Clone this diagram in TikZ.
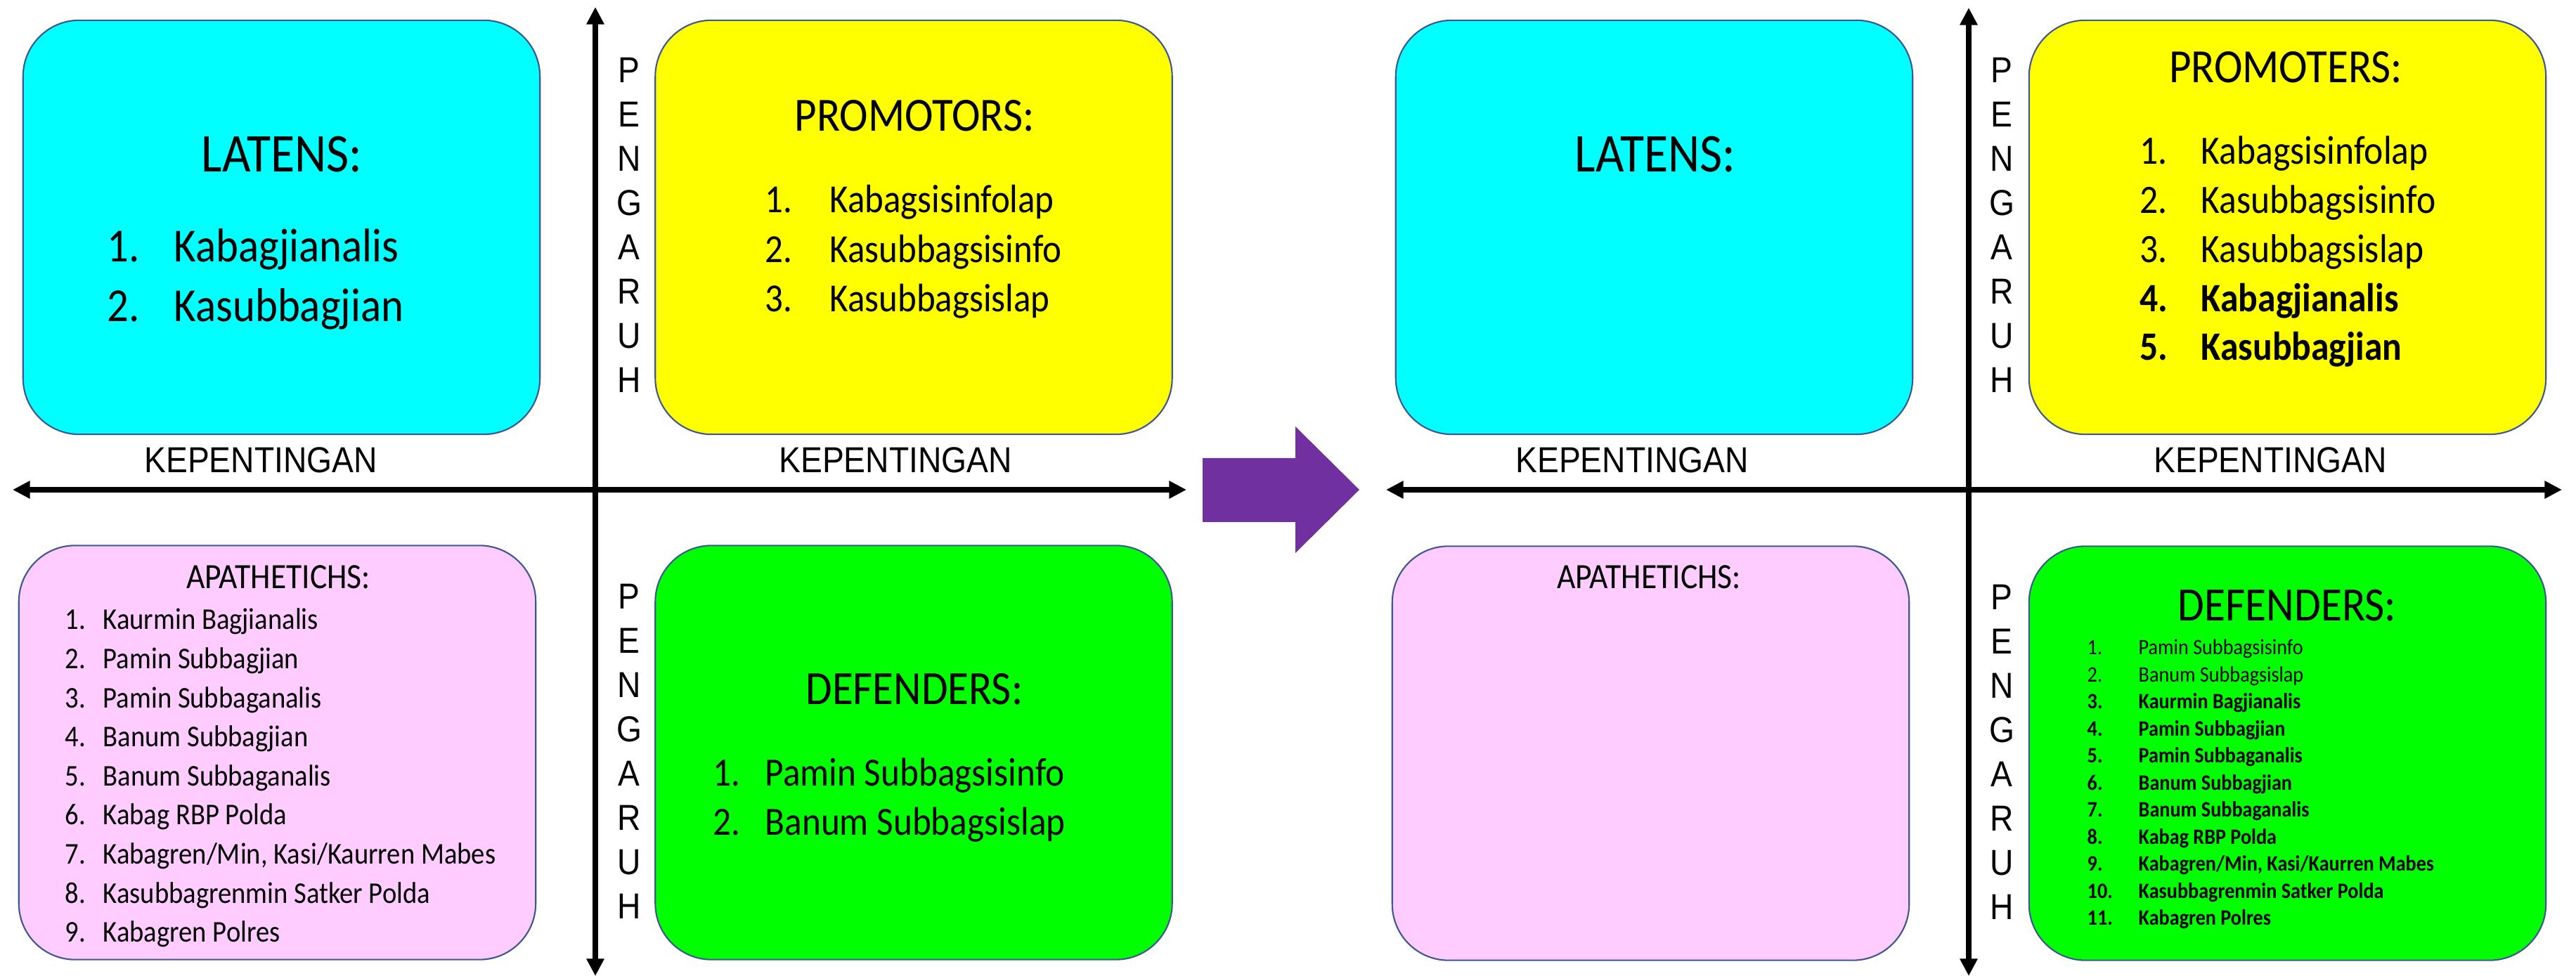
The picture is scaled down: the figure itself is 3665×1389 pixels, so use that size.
\documentclass[tikz,border=0pt]{standalone}
\usepackage{graphicx}
\usepackage{fontspec}
\usetikzlibrary{arrows.meta}
\newfontfamily\boxfont[FakeStretch=0.9]{Carlito}
\newfontfamily\axisfont[FakeStretch=0.9]{Liberation Sans}
\definecolor{qcyan}{RGB}{0,255,255}
\definecolor{qyellow}{RGB}{255,255,0}
\definecolor{qpink}{RGB}{255,204,255}
\definecolor{qgreen}{RGB}{0,255,0}
\definecolor{qedge}{RGB}{62,86,150}
\definecolor{qpurple}{RGB}{112,48,160}
\begin{document}
\begin{tikzpicture}[x=0.01cm, y=-0.01cm,
  quad/.style={draw=qedge, line width=0.6pt, rounded corners=0.8cm,
    minimum width=7.35cm, minimum height=5.89cm, inner sep=0pt},
  axisline/.style={line width=2.3pt,
    {Triangle[length=7pt,width=6.8pt]}-{Triangle[length=7pt,width=6.8pt]}},
  ttl/.style={inner sep=0pt, anchor=base, font={\boxfont\fontsize{#1}{#1}\selectfont}},
  itm/.style={inner sep=0pt, anchor=base west, font={\boxfont\fontsize{#1}{#1}\selectfont}},
  itmb/.style={inner sep=0pt, anchor=base west, font={\boxfont\bfseries\fontsize{#1}{#1}\selectfont}},
  axlbl/.style={inner sep=0pt, anchor=base, font={\axisfont\fontsize{14.6pt}{14.6pt}\selectfont}},
]
\useasboundingbox (0,0) rectangle (3665,1389);

% ---------------- left matrix ----------------
\node[quad, fill=qcyan]   (latL) at (400.5,323.5) {};
\node[quad, fill=qyellow] (proL) at (1300,323.5) {};
\node[quad, fill=qpink]   (apaL) at (394.5,1071) {};
\node[quad, fill=qgreen]  (defL) at (1300,1071) {};

\coordinate (vLtop) at (847,10);
\coordinate (vLbot) at (847,1389);
\coordinate (hLl) at (18,697);
\coordinate (hLr) at (1688,697);
\draw[axisline] (hLl) -- (hLr);
\draw[axisline] (vLbot) -- (vLtop);

\node[axlbl] (kepLa) at (371,673) {KEPENTINGAN};
\node[axlbl] (kepLb) at (1274,673) {KEPENTINGAN};
\foreach \c [count=\i] in {P,E,N,G,A,R,U,H} {
  \node[axlbl] (pgLa\i) at ({895},{118+63*(\i-1)}) {\c};
  \node[axlbl] (pgLb\i) at ({895},{867+63*(\i-1)}) {\c};
}

\node[ttl=22.1pt] (latLt) at (401,245) {LATENS:};
\foreach \t [count=\i] in {Kabagjianalis, Kasubbagjian} {
  \node[itm=19.2pt] (latLn\i) at ({152},{373+85*(\i-1)}) {\i.};
  \node[itm=19.2pt] (latLx\i) at ({247},{373+85*(\i-1)}) {\t};
}

\node[ttl=19.3pt] (proLt) at (1301,187) {PROMOTORS:};
\foreach \t [count=\i] in {Kabagsisinfolap, Kasubbagsisinfo, Kasubbagsislap} {
  \node[itm=16.1pt] (proLn\i) at ({1088},{303+70.5*(\i-1)}) {\i.};
  \node[itm=16.1pt] (proLx\i) at ({1180},{303+70.5*(\i-1)}) {\t};
}

\node[ttl=14.4pt] (apaLt) at (396,838) {APATHETICHS:};
\foreach \t [count=\i] in {Kaurmin Bagjianalis, Pamin Subbagjian, Pamin Subbaganalis,
    Banum Subbagjian, Banum Subbaganalis, Kabag RBP Polda,
    {Kabagren/Min, Kasi/Kaurren Mabes}, Kasubbagrenmin Satker Polda, Kabagren Polres} {
  \node[itm=12.2pt] (apaLn\i) at ({92},{896+55.6*(\i-1)}) {\i.};
  \node[itm=12.2pt] (apaLx\i) at ({146},{896+55.6*(\i-1)}) {\t};
}

\node[ttl=19.3pt] (defLt) at (1301,1003) {DEFENDERS:};
\foreach \t [count=\i] in {Pamin Subbagsisinfo, Banum Subbagsislap} {
  \node[itm=16.2pt] (defLn\i) at ({1014},{1119+70*(\i-1)}) {\i.};
  \node[itm=16.2pt] (defLx\i) at ({1088},{1119+70*(\i-1)}) {\t};
}

% ---------------- transition arrow ----------------
\fill[qpurple] (1711,652) -- (1843,652) -- (1843,607) -- (1934,697)
  -- (1843,787) -- (1843,743) -- (1711,743) -- cycle;

% ---------------- right matrix ----------------
\node[quad, fill=qcyan]   (latR) at (2353.5,323.5) {};
\node[quad, fill=qyellow] (proR) at (3254.5,323.5) {};
\node[quad, fill=qpink]   (apaR) at (2348.5,1072) {};
\node[quad, fill=qgreen]  (defR) at (3254.5,1072) {};

\coordinate (vRtop) at (2801,11);
\coordinate (vRbot) at (2801,1389);
\coordinate (hRl) at (1972,697);
\coordinate (hRr) at (3645,697);
\draw[axisline] (hRl) -- (hRr);
\draw[axisline] (vRbot) -- (vRtop);

\node[axlbl] (kepRa) at (2322,673) {KEPENTINGAN};
\node[axlbl] (kepRb) at (3230,673) {KEPENTINGAN};
\foreach \c [count=\i] in {P,E,N,G,A,R,U,H} {
  \node[axlbl] (pgRa\i) at ({2848},{118+63*(\i-1)}) {\c};
  \node[axlbl] (pgRb\i) at ({2848},{868+63*(\i-1)}) {\c};
}

\node[ttl=22.1pt] (latRt) at (2355,245) {LATENS:};

\node[ttl=19.3pt] (proRt) at (3252,118) {PROMOTERS:};
\foreach \t [count=\i] in {Kabagsisinfolap, Kasubbagsisinfo, Kasubbagsislap} {
  \node[itm=16.3pt] (proRn\i) at ({3044},{234+69.7*(\i-1)}) {\i.};
  \node[itm=16.3pt] (proRx\i) at ({3131},{234+69.7*(\i-1)}) {\t};
}
\foreach \t [count=\i from 4] in {Kabagjianalis, Kasubbagjian} {
  \node[itmb=16.3pt] (proRn\i) at ({3044},{234+69.7*(\i-1)}) {\i.};
  \node[itmb=16.3pt] (proRx\i) at ({3131},{234+69.7*(\i-1)}) {\t};
}

\node[ttl=14.4pt] (apaRt) at (2346,838) {APATHETICHS:};

\node[ttl=19.4pt] (defRt) at (3254,884) {DEFENDERS:};
\foreach \t [count=\i] in {Pamin Subbagsisinfo, Banum Subbagsislap} {
  \node[itm=8.9pt] (defRn\i) at ({2969},{932+38.5*(\i-1)}) {\i.};
  \node[itm=8.9pt] (defRx\i) at ({3042},{932+38.5*(\i-1)}) {\t};
}
\foreach \t [count=\i from 3] in {Kaurmin Bagjianalis, Pamin Subbagjian, Pamin Subbaganalis,
    Banum Subbagjian, Banum Subbaganalis, Kabag RBP Polda,
    {Kabagren/Min, Kasi/Kaurren Mabes}, Kasubbagrenmin Satker Polda, Kabagren Polres} {
  \node[itmb=8.9pt] (defRn\i) at ({2969},{932+38.5*(\i-1)}) {\i.};
  \node[itmb=8.9pt] (defRx\i) at ({3042},{932+38.5*(\i-1)}) {\t};
}
\end{tikzpicture}
\end{document}
